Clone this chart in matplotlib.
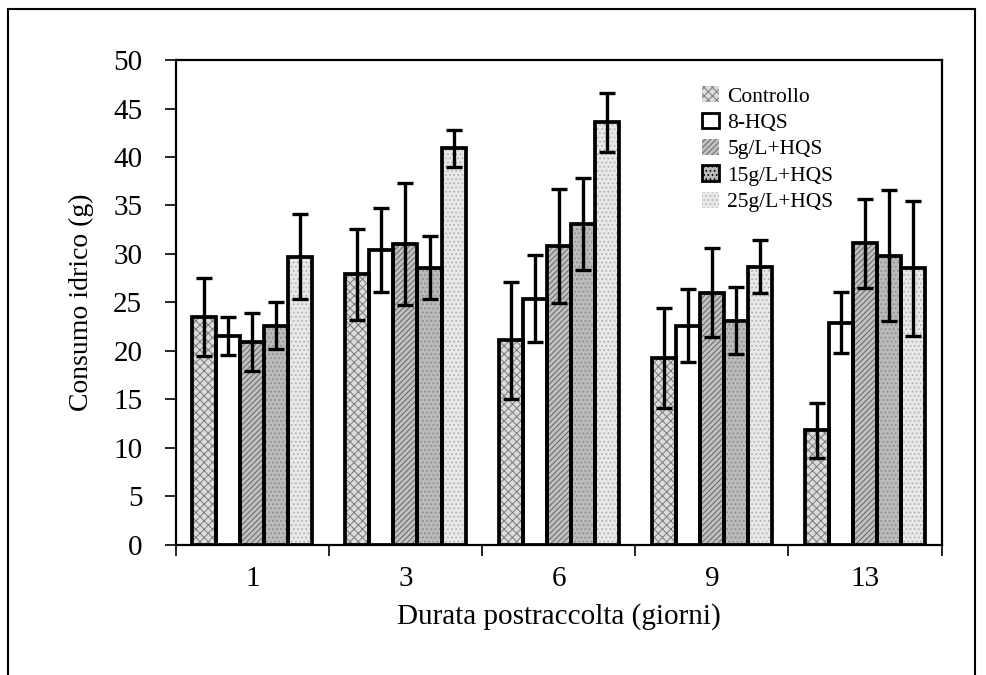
import matplotlib
matplotlib.use('Agg')
import matplotlib.pyplot as plt
import matplotlib.patches as mpatches
from matplotlib.lines import Line2D
import numpy as np

plt.rcParams['font.family'] = ['Liberation Serif', 'DejaVu Serif']
plt.rcParams['hatch.linewidth'] = 0.7

# Data
days = ['1', '3', '6', '9', '13']
series = ['Controllo', '8-HQS', '5g/L+HQS', '15g/L+HQS', '25g/L+HQS']
controllo = [23.5, 27.9, 21.1, 19.3, 11.8]
controllo_err = [4.0, 4.7, 6.05, 5.15, 2.85]
hqs = [21.5, 30.4, 25.4, 22.6, 22.9]
hqs_err = [1.95, 4.35, 4.45, 3.75, 3.15]
g5 = [20.9, 31.0, 30.8, 26.0, 31.1]
g5_err = [3.0, 6.3, 5.9, 4.6, 4.6]
g15 = [22.6, 28.6, 33.1, 23.1, 29.8]
g15_err = [2.45, 3.3, 4.75, 3.45, 6.75]
g25 = [29.7, 40.9, 43.6, 28.7, 28.5]
g25_err = [4.4, 1.9, 3.05, 2.75, 6.95]

values = [controllo, hqs, g5, g15, g25]
errors = [controllo_err, hqs_err, g5_err, g15_err, g25_err]

# style per series: facecolor, hatch, hatch colour, legend edge
styles = [
    ('#dcdcdc', 'xxxx', '#7a7a7a', False),
    ('white', None, 'white', True),
    ('#c0c0c0', '//////', '#666666', False),
    ('#bababa', '....', '#8a8a8a', True),
    ('#e8e8e8', '....', '#adadad', False),
]

fig = plt.figure(figsize=(9.87, 6.75), dpi=100)
ax = fig.add_axes([0.178, 0.193, 0.776, 0.718])

x = np.arange(len(days))
w = 0.157
for i, (vals, errs) in enumerate(zip(values, errors)):
    fc, hatch, hc, _ = styles[i]
    pos = x + (i - 2) * w
    ax.bar(pos, vals, width=w, color=fc, hatch=hatch, edgecolor=hc,
           linewidth=0, zorder=2)
    ax.bar(pos, vals, width=w, fill=False, edgecolor='black',
           linewidth=2.7, zorder=3)
    ax.errorbar(pos, vals, yerr=errs, fmt='none', ecolor='black',
                elinewidth=2.4, capsize=5.5, capthick=2.4, zorder=4)

ax.set_xlim(-0.5, len(days) - 0.5)
ax.set_ylim(0, 50)
ax.set_yticks(np.arange(0, 51, 5))
ax.set_xticks(x)
ax.set_xticklabels(days)
ax.set_xticks(np.arange(-0.5, len(days), 1), minor=True)
ax.tick_params(axis='x', which='major', length=0, pad=15, labelsize=21)
ax.tick_params(axis='x', which='minor', length=8, width=1.2, direction='out')
ax.tick_params(axis='y', length=8, width=1.2, direction='out', labelsize=21, pad=16)
for s in ax.spines.values():
    s.set_linewidth(1.6)

ax.set_ylabel('Consumo idrico (g)', fontsize=20, labelpad=14)
ax.set_xlabel('Durata postraccolta (giorni)', fontsize=21, labelpad=8)

# legend
handles = []
for i, name in enumerate(series):
    fc, hatch, hc, edge = styles[i]
    handles.append(mpatches.Patch(facecolor=fc, hatch=hatch,
                                  edgecolor='black' if edge else hc,
                                  linewidth=2 if edge else 0, label=name))
fig.legend(handles=handles, loc='upper left', bbox_to_anchor=(0.703, 0.885),
           frameon=False, fontsize=15.5, handlelength=0.75, handleheight=0.75,
           handletextpad=0.4, labelspacing=0.28, borderaxespad=0)

# outer frame of the scanned figure
for xs, ys in [([0.008, 0.008], [0.0, 0.987]), ([0.008, 0.988], [0.987, 0.987]),
               ([0.988, 0.988], [0.0, 0.987])]:
    fig.add_artist(Line2D(xs, ys, transform=fig.transFigure, color='black', lw=1.5))

plt.savefig('out.png', dpi=100)
